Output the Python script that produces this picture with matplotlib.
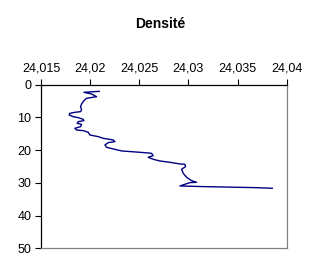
import matplotlib.pyplot as plt
from matplotlib.ticker import FuncFormatter

# Profil de densité
densite = [24.02091, 24.01935, 24.02013, 24.02064, 24.01962, 24.01935, 24.01911,
           24.01901, 24.01911, 24.01901, 24.01843, 24.01792, 24.01785, 24.01826,
           24.01877, 24.01928, 24.01935, 24.01877, 24.01867, 24.01911, 24.01901,
           24.01843, 24.01860, 24.01928, 24.01979, 24.01996, 24.02081, 24.02132,
           24.02234, 24.02251, 24.02183, 24.02149, 24.02166, 24.02234, 24.02319,
           24.02505, 24.02624, 24.02641, 24.02590, 24.02641, 24.02709, 24.02811,
           24.02913, 24.02964, 24.02971, 24.02930, 24.02947, 24.02981, 24.03032,
           24.03083, 24.03015, 24.02964, 24.02913, 24.03151, 24.03677, 24.03854]
profondeur = [2.04, 2.34, 2.85, 3.67, 4.18, 4.89, 5.91, 6.72, 7.74, 8.25, 8.45,
              8.76, 9.27, 9.78, 10.08, 10.59, 11.0, 11.3, 11.81, 12.12, 12.83,
              13.34, 13.85, 14.05, 14.56, 15.38, 15.89, 16.4, 16.9, 17.41, 17.72,
              18.43, 19.14, 19.65, 20.26, 20.67, 20.98, 21.69, 22.2, 22.81, 23.32,
              23.73, 24.24, 24.34, 25.05, 25.87, 27.09, 28.31, 29.33, 29.84, 29.94,
              30.45, 30.96, 31.16, 31.47, 31.67]
x_ticks = [24.015, 24.02, 24.025, 24.03, 24.035, 24.04]
y_ticks = [0, 10, 20, 30, 40, 50]

plt.rcParams['font.family'] = ['Liberation Sans', 'DejaVu Sans']

fig = plt.figure(figsize=(3.22, 2.74), dpi=100)
ax = fig.add_axes([0.128, 0.094, 0.762, 0.597])
ax.plot(densite, profondeur, color='#000080', lw=1)

ax.set_xlim(24.015, 24.04)
ax.set_ylim(50, 0)
ax.set_xticks(x_ticks)
ax.set_yticks(y_ticks)
ax.xaxis.set_major_formatter(FuncFormatter(lambda v, p: f"{v:g}".replace('.', ',')))
ax.xaxis.tick_top()
ax.tick_params(axis='both', direction='out', length=4, width=0.8, labelsize=9,
               colors='black')
ax.tick_params(axis='x', pad=3)
ax.tick_params(axis='y', pad=3)

ax.spines['right'].set_color('#808080')
ax.spines['bottom'].set_color('#808080')
for s in ax.spines.values():
    s.set_linewidth(0.9)

fig.text(0.497, 0.914, 'Densité', ha='center', va='center',
         fontsize=10, fontweight='bold')

fig.savefig('out.png', dpi=100)
